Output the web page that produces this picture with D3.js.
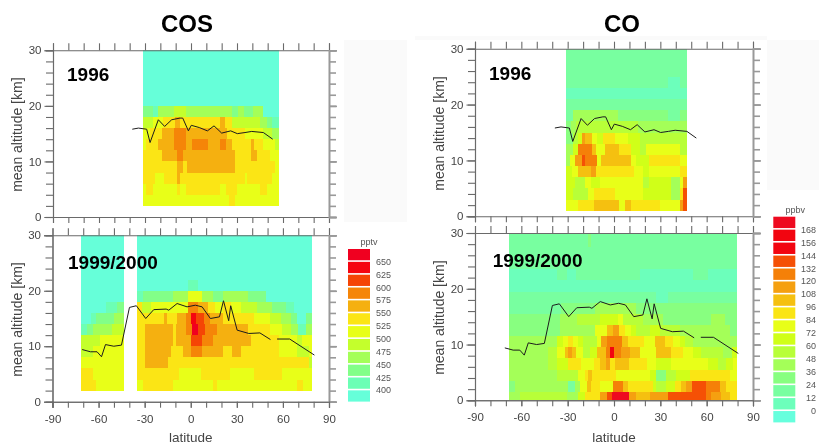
<!DOCTYPE html>
<html>
<head>
<meta charset="utf-8">
<script src="https://cdn.jsdelivr.net/npm/d3@7"></script>
<style>
  html, body { margin: 0; padding: 0; background: #fff; overflow: hidden; }
  svg { display: block; filter: blur(0.6px); }
  text { font-family: "Liberation Sans", Arial, sans-serif; }
</style>
</head>
<body>
<div id="chart"></div>
<script>
// colour bands, bottom of the legend first
const cosTicks = [400, 425, 450, 475, 500, 525, 550, 575, 600, 625, 650];
const cosColors = ["#66ffd9", "#6cffb5", "#82ff88", "#a4ff58", "#c4ff2c", "#e8ff18", "#fbe515", "#f5b010", "#f58508", "#f54505", "#f50510", "#f00020"];
const coTicks = [0, 12, 24, 36, 48, 60, 72, 84, 96, 108, 120, 132, 144, 156, 168];
const coColors = ["#66ffdd", "#6cffbb", "#78ffa0", "#88ff80", "#a4ff58", "#b8ff38", "#d0ff18", "#e8ff18", "#fae514", "#f5c010", "#f5a010", "#f58008", "#f55005", "#f20510", "#f20510", "#ee0a20"];

const latTicks = [-90, -60, -30, 0, 30, 60, 90];
const altTicks = [0, 10, 20, 30];

// tropopause altitude along the flight tracks, [latitude, km]
const track1996 = [[-38.3, 15.8], [-34.3, 16], [-28.9, 15.8], [-26.7, 13.4], [-21.3, 17.5], [-17.2, 16.3], [-12.6, 17.5], [-7.2, 17.8], [-5.4, 17.8], [-1.7, 15.5], [0.2, 16.5], [5.4, 16.1], [10.7, 15.5], [15, 16.4], [20, 15.1], [25.9, 15.5], [30.2, 15], [35.2, 15.2], [39.6, 15.4], [47.2, 15.2], [53.3, 14]];
const track1999 = [[-70.7, 9.4], [-65.3, 9], [-61, 9], [-58.1, 8.1], [-55.5, 10.3], [-50.1, 10], [-45.1, 10.2], [-39.9, 17], [-35.4, 17.3], [-29.3, 15], [-24.1, 16.6], [-16, 16.7], [-14.3, 16.5], [-8.9, 17.7], [-2.4, 17.1], [3, 17.4], [7.4, 17.1], [12.8, 15], [18.7, 15.3], [21.3, 18.2], [24.7, 14.6], [26, 17.3], [30.2, 12.9], [37.8, 12.3], [45, 12.4], [51.9, 11.2], [54, null], [56.2, 11.3], [64.4, 11.3], [80.5, 8.4]];

// altitude bin edges of each grid
const cos1996Alts = [2, 4, 6, 8, 10, 12, 14, 16, 18, 20, 30];
const cos1999Alts = [2, 4, 6, 8, 10, 12, 14, 16, 18, 20, 22, 30];
const co1996Alts = [1, 3, 5, 7, 9, 11, 13, 15, 17, 19, 21, 23, 25, 30];
const co1999Alts = [0, 1.5, 3.5, 5.5, 7.5, 9.5, 11.5, 13.5, 15.5, 17.5, 19.5, 21.5, 23.5, 27.5, 30];

// one row per altitude bin, each cell is [latitude where it ends, mixing ratio]
const cos1996Rows = [
  [[24.8, 500], [28.7, 525], [57.3, 500]],
  [[-29.3, 500], [-25, 525], [-9.3, 500], [-7.2, 525], [-3.3, 500], [18.9, 525], [22.8, 500], [30.2, 525], [45, 500], [49.3, 525], [57.3, 500]],
  [[-23.5, 525], [-17.6, 500], [-9.3, 525], [-7.2, 550], [35.2, 525], [36.7, 500], [52.6, 525], [57.3, 500]],
  [[-9.3, 525], [-5, 550], [-2.8, 525], [28.7, 550], [54.8, 525], [57.3, 500]],
  [[-19.1, 525], [-9.3, 550], [-5, 575], [28.7, 550], [38.9, 525], [42.8, 550], [51.5, 525], [57.3, 500]],
  [[-29.3, 500], [-21.3, 525], [-11.1, 550], [-3.3, 575], [0.9, 550], [10.9, 575], [18.9, 550], [22.8, 575], [26.5, 550], [38.9, 525], [41, 550], [47.2, 525], [54.8, 500], [57.3, 475]],
  [[-26.7, 500], [-19.1, 525], [-11.1, 550], [-3.3, 575], [23.3, 550], [35.2, 525], [47.2, 500], [52.6, 475], [57.3, 450]],
  [[-24.6, 475], [-18, 500], [-10.4, 525], [-7.2, 550], [18.9, 525], [22.2, 550], [26.5, 525], [45, 475], [49.3, 450], [52.6, 425], [57.3, 400]],
  [[-25, 425], [-21.7, 400], [-11, 450], [-3.3, 475], [27, 450], [30.9, 425], [34.8, 450], [40.7, 425], [47.2, 450], [57.3, 375]],
  [[57.3, 375]]
];
const cos1999Rows = [
  [[-61.7, 525], [-43.5, 500], [-35, null], [-31.3, 500], [-11.3, 525], [14.8, 500], [17, 525], [69, 500], [73, 525], [79.2, 500]],
  [[-63.5, 525], [-43.5, 500], [-35, null], [-7.4, 525], [6.7, 500], [25.4, 525], [41.3, 500], [59.3, 525], [79.2, 500]],
  [[-43.5, 500], [-35, null], [-29.6, 525], [-15, 550], [77, 525], [79.2, 475]],
  [[-63.5, 475], [-43.5, 500], [-35, null], [-29.6, 525], [-12.6, 550], [-4.8, 525], [0, 550], [7, 575], [21, 550], [27, 525], [33, 550], [57.6, 525], [69, 500], [77, 475], [79.2, 500]],
  [[-59, 475], [-43.5, 500], [-35, null], [-29.6, 525], [-11.3, 550], [-9.6, 525], [0, 550], [7.6, 600], [14.8, 575], [39, 550], [57.6, 525], [69, 500], [72.4, 475], [79.2, 500]],
  [[-67.4, 400], [-63.5, 425], [-51.5, 450], [-43.5, 475], [-35, null], [-29.6, 525], [-11.3, 550], [-9.6, 525], [-3, 550], [0.7, 575], [5, 650], [9, 600], [17, 575], [37.4, 550], [51.7, 525], [59.3, 500], [65.2, 475], [69.6, 450], [75, 400], [79.2, 450]],
  [[-65, 375], [-62, 400], [-50, 425], [-43.5, 450], [-35, null], [-17.4, 525], [-15.2, 550], [-9.1, 525], [-3, 550], [0, 575], [3.5, 625], [8.7, 600], [12.6, 575], [21, 550], [41, 525], [51.5, 500], [59, 475], [65, 450], [69, 425], [75, 375], [79.2, 425]],
  [[-55, 375], [-48, 400], [-43.5, 425], [-35, null], [-32, 525], [-26, 475], [-1.5, 500], [5, 575], [11, 550], [16, 525], [21, 500], [26, 525], [33, 500], [43, 475], [53, 450], [62, 425], [67, 400], [79.2, 375]],
  [[-43.5, 375], [-35, null], [-31.3, 400], [-11.3, 425], [-1.5, 450], [7.2, 500], [14.8, 450], [21, 425], [37, 450], [49, 425], [79.2, 375]],
  [[-43.5, 375], [-35, null], [-1.5, 375], [5, 400], [79.2, 375]],
  [[-43.5, 375], [-35, null], [79.2, 375]]
];
const co1996Rows = [
  [[-23.2, 72], [-13, 84], [3.3, 96], [7, 72], [11.3, 96], [29.6, 84], [42.6, 72], [44.7, 108], [47.3, 132]],
  [[-26.8, 60], [-16.7, 48], [-13, 72], [0.5, 84], [18.9, 72], [37.2, 60], [42.6, 36], [44.7, 84], [47.3, 132]],
  [[-25.3, 60], [-18.9, 48], [-15, 72], [-9.2, 60], [18.9, 72], [22.7, 48], [37.2, 60], [42.6, 36], [44.7, 72], [47.3, 108]],
  [[-27.5, 60], [-23.2, 72], [-15, 96], [-11.7, 108], [12.8, 84], [18.9, 72], [22.7, 60], [42.6, 72], [47.3, 84]],
  [[-28.6, 36], [-25.3, 72], [-21, 108], [-18.9, 132], [-11.3, 120], [-8.7, 72], [11.3, 96], [14.5, 72], [22.7, 60], [42.6, 84], [47.3, 72]],
  [[-26.8, 36], [-23.2, 60], [-14.5, 120], [-11.7, 96], [-5.9, 72], [3.3, 96], [10.7, 84], [16.7, 60], [20.6, 48], [42.6, 72], [47.3, 48]],
  [[-26.8, 24], [-23.2, 48], [-21, 60], [-18.9, 108], [-14.5, 96], [-11.3, 72], [-7, 60], [0.5, 84], [9.2, 72], [16.7, 60], [47.3, 48]],
  [[-28.1, 24], [-24.7, 36], [15.6, 48], [47.3, 36]],
  [[-26.8, 12], [2.7, 36], [35, 24], [42.6, 12], [47.3, 24]],
  [[47.3, 12]],
  [[47.3, 0]],
  [[35, 12], [42.6, 0], [47.3, 12]],
  [[47.3, 12]]
];
const co1999Rows = [
  [[-60.9, 36], [-30.7, 48], [-23.2, 36], [-18.9, 60], [-9.2, 84], [-4.8, 108], [-1, 132], [9.8, 168], [14.5, 108], [23.2, 96], [35, 108], [59.4, 132], [63, 120], [69.5, 108], [74.9, 96], [79.6, 84]],
  [[-64, 24], [-29.6, 36], [-25.3, 12], [-22.1, 36], [-17.4, 72], [-15.2, 96], [-9.2, 84], [-0.5, 72], [5.9, 120], [9.2, 96], [25.3, 84], [27.5, 60], [33.9, 48], [39.3, 60], [43.6, 84], [46.9, 96], [50.8, 108], [59.4, 132], [68.9, 120], [72.7, 96], [79.6, 84]],
  [[-37.2, 36], [-23.2, 48], [-18.9, 72], [-16.7, 84], [-14.5, 96], [1.6, 84], [23.2, 72], [27.5, 60], [33.9, 24], [40.4, 48], [49, 60], [74.9, 84], [79.6, 72]],
  [[-43, 36], [-36.7, 48], [-30, 60], [-21.5, 84], [-13, 72], [-9, 84], [-5.3, 96], [-2.7, 108], [0.5, 84], [10, 96], [21.5, 84], [27.5, 72], [37.2, 60], [60.9, 72], [67.4, 60], [72.8, 48], [77, 60], [79.6, 72]],
  [[-42.6, 36], [-37.2, 48], [-31.8, 72], [-29.6, 96], [-27.5, 108], [-24.7, 96], [-19.9, 72], [-15.6, 48], [-11.3, 60], [-5.3, 96], [-2.7, 120], [-0.1, 156], [4.8, 120], [10.2, 108], [16.7, 96], [27.5, 72], [37.2, 96], [44.7, 84], [51.2, 72], [56.6, 60], [70.6, 48], [76.7, 36], [79.6, 60]],
  [[-37.2, 36], [-32.9, 60], [-29.6, 72], [-26.4, 84], [-23.2, 72], [-19.9, 60], [-11.3, 48], [-8.1, 72], [-4.8, 108], [5.3, 120], [9.2, 96], [19.3, 84], [26.4, 72], [32.9, 96], [38.3, 84], [43, 72], [45.8, 60], [51.2, 48], [79.6, 36]],
  [[-35, 24], [-12.4, 36], [-4.8, 72], [-0.5, 96], [3.3, 108], [7, 84], [11, 72], [14.5, 60], [23, 48], [29.6, 60], [42.6, 48], [75, 36], [79.6, 24]],
  [[-35, 24], [-24.2, 36], [-9.2, 48], [2.7, 60], [5.9, 72], [18.9, 48], [31.8, 36], [63, 24], [71.7, 36], [79.6, 24]],
  [[-34, 12], [-12.5, 24], [14.5, 36], [79.6, 24]],
  [[27.5, 12], [35, 0], [79.6, 12]],
  [[79.6, 0]],
  [[-36.7, 0], [-30.7, 12], [-24.7, 0], [17.1, 12], [51.2, 0], [60.9, 12], [79.6, 0]],
  [[79.6, 12]],
  [[-16.7, 12], [-15, 24], [79.6, 12]]
];

const frameColor = "#6a6a6a";
const tickTextColor = "#444";

const svg = d3.select("#chart")
  .append("svg")
  .attr("width", 819)
  .attr("height", 445);

// faint backgrounds left behind in the source figure
[[344, 40, 63, 182], [767, 40, 52, 150], [415, 36, 352, 4]].forEach(([x, y, w, h]) => {
  svg.append("rect").attr("x", x).attr("y", y).attr("width", w).attr("height", h).attr("fill", "#fafafa");
});

const drawPanel = p => {
  const xScale = d3.scaleLinear().domain([-90, 90]).range([p.left, p.right]);
  const yScale = d3.scaleLinear().domain([0, 30]).range([p.bottom, p.top]);
  const group = svg.append("g");

  // 1. grid cells, row by row
  p.rows.forEach((row, r) => {
    let from = p.startLat;
    row.forEach(([to, value]) => {
      if (value !== null) {
        group.append("rect")
          .attr("x", xScale(from))
          .attr("y", yScale(p.alts[r + 1]))
          .attr("width", xScale(to) - xScale(from))
          .attr("height", yScale(p.alts[r]) - yScale(p.alts[r + 1]))
          .attr("fill", p.color(value))
          .attr("shape-rendering", "crispEdges");
      }
      from = to;
    });
  });

  // 2. axes on all four sides
  const noLabel = () => "";
  const minorLat = d3.range(-90, 91, 10);
  const minorAlt = d3.range(0, 31, 2);
  const axes = [
    { axis: d3.axisBottom(xScale).tickValues(minorLat).tickSize(6), at: `translate(0,${p.bottom})`, color: frameColor, label: false },
    { axis: d3.axisTop(xScale).tickValues(minorLat).tickSize(7), at: `translate(0,${p.top})`, color: frameColor, label: false },
    { axis: d3.axisLeft(yScale).tickValues(minorAlt).tickSize(7), at: `translate(${p.left},0)`, color: frameColor, label: false },
    { axis: d3.axisRight(yScale).tickValues(minorAlt).tickSize(7), at: `translate(${p.right},0)`, color: "#999", label: false },
    { axis: d3.axisLeft(yScale).tickValues(altTicks).tickSize(8.5), at: `translate(${p.left},0)`, color: frameColor, label: true },
    { axis: d3.axisRight(yScale).tickValues(altTicks).tickSize(8), at: `translate(${p.right},0)`, color: "#999", label: false }
  ];
  if (p.xLabels) {
    axes.push({ axis: d3.axisBottom(xScale).tickValues(latTicks).tickSize(6).tickPadding(7).tickFormat(d => String(d)), at: `translate(0,${p.bottom})`, color: frameColor, label: true });
  }
  axes.forEach(a => {
    if (!a.label) a.axis.tickFormat(noLabel);
    const g = group.append("g").attr("transform", a.at).call(a.axis);
    g.selectAll("path, line").attr("stroke", a.color).attr("stroke-width", a.color === "#999" ? 1.6 : 1.1);
    g.selectAll("text").attr("fill", tickTextColor).style("font-size", "11.5px")
      .style("font-family", '"Liberation Sans", Arial, sans-serif');
  });

  // 3. tropopause line
  const line = d3.line()
    .defined(d => d[1] !== null)
    .x(d => xScale(d[0]))
    .y(d => yScale(d[1]));
  group.append("path")
    .attr("d", line(p.track))
    .attr("fill", "none")
    .attr("stroke", "#1c1c1c")
    .attr("stroke-width", 1);

  // 4. labels
  group.append("text")
    .text("mean altitude [km]")
    .attr("transform", `translate(${p.left - 31},${(p.top + p.bottom) / 2 + 1}) rotate(-90)`)
    .attr("text-anchor", "middle")
    .attr("fill", tickTextColor)
    .style("font-size", "14px");

  group.append("text")
    .text(p.year)
    .attr("x", p.yearX)
    .attr("y", p.yearY)
    .style("font-size", "19px")
    .style("font-weight", 700);

  if (p.xLabels) {
    group.append("text")
      .text("latitude")
      .attr("x", xScale(0))
      .attr("y", 441.5)
      .attr("text-anchor", "middle")
      .attr("fill", tickTextColor)
      .style("font-size", "13.5px");
  }
};

const drawLegend = l => {
  const yScale = d3.scaleLinear().domain([0, l.colors.length]).range([l.bottom, l.top]);
  const step = (l.bottom - l.top) / l.colors.length;
  const group = svg.append("g");

  group.selectAll("rect")
    .data(l.colors)
    .enter()
    .append("rect")
    .attr("x", l.x)
    .attr("y", (d, i) => yScale(i + 1))
    .attr("width", 22)
    .attr("height", step - 1.6)
    .attr("fill", d => d);

  group.selectAll(".legend-tick")
    .data(l.ticks)
    .enter()
    .append("text")
    .attr("class", "legend-tick")
    .text(d => d)
    .attr("x", l.labelX)
    .attr("y", (d, i) => yScale(i + 1) + 3)
    .attr("text-anchor", "end")
    .attr("fill", "#555")
    .style("font-size", "9px");

  group.append("text")
    .text(l.unit)
    .attr("x", l.x + l.unitShift)
    .attr("y", l.top - 4)
    .attr("text-anchor", "middle")
    .attr("fill", "#555")
    .style("font-size", "9px");
};

const cosColor = d3.scaleThreshold().domain(cosTicks).range(cosColors);
const coColor = d3.scaleThreshold().domain(coTicks).range(coColors);

drawPanel({ left: 53, right: 329, top: 50.3, bottom: 217, rows: cos1996Rows, alts: cos1996Alts, startLat: -31.1, color: cosColor, track: track1996, year: "1996", yearX: 67, yearY: 81, xLabels: false });
drawPanel({ left: 52.5, right: 329, top: 235.3, bottom: 401.7, rows: cos1999Rows, alts: cos1999Alts, startLat: -71.3, color: cosColor, track: track1999, year: "1999/2000", yearX: 68, yearY: 269, xLabels: true });
drawPanel({ left: 475, right: 753, top: 48.7, bottom: 216.3, rows: co1996Rows, alts: co1996Alts, startLat: -31.1, color: coColor, track: track1996, year: "1996", yearX: 489, yearY: 80, xLabels: false });
drawPanel({ left: 475, right: 753, top: 233, bottom: 400.3, rows: co1999Rows, alts: co1999Alts, startLat: -68.2, color: coColor, track: track1999, year: "1999/2000", yearX: 492.7, yearY: 266.7, xLabels: true });

drawLegend({ x: 348, top: 249, bottom: 403.2, colors: cosColors, ticks: cosTicks, labelX: 391, unit: "pptv", unitShift: 21 });
drawLegend({ x: 773.3, top: 216.7, bottom: 424, colors: coColors, ticks: coTicks, labelX: 816, unit: "ppbv", unitShift: 22 });

[["COS", 187], ["CO", 622]].forEach(([name, x]) => {
  svg.append("text")
    .text(name)
    .attr("x", x)
    .attr("y", 32)
    .attr("text-anchor", "middle")
    .style("font-size", "24px")
    .style("font-weight", 700);
});
</script>
</body>
</html>
